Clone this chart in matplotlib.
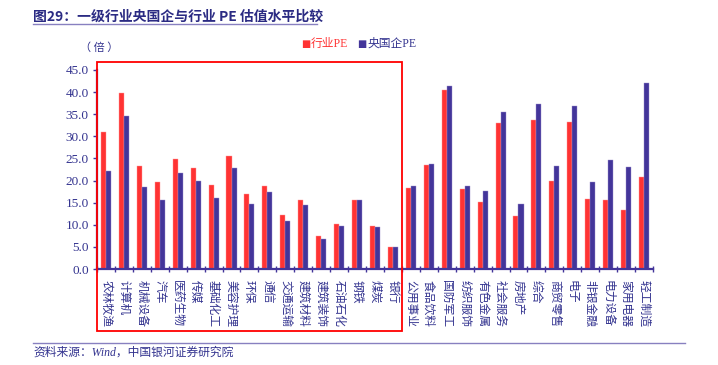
import matplotlib
matplotlib.use("Agg")
import matplotlib.pyplot as plt
import matplotlib.transforms as mtransforms
from matplotlib.patches import Rectangle
import numpy as np

plt.rcParams['font.family'] = ['Liberation Serif', 'Noto Sans CJK SC', 'DejaVu Sans']

# Industries and PE values
industries = ["农林牧渔", "计算机", "机械设备", "汽车", "医药生物", "传媒", "基础化工", "美容护理",
              "环保", "通信", "交通运输", "建筑材料", "建筑装饰", "石油石化", "钢铁", "煤炭", "银行",
              "公用事业", "食品饮料", "国防军工", "纺织服饰", "有色金属", "社会服务", "房地产", "综合",
              "商贸零售", "电子", "非银金融", "电力设备", "家用电器", "轻工制造"]
industryPE = [30.9, 39.9, 23.4, 19.6, 24.9, 22.8, 18.9, 25.5,
              16.9, 18.7, 12.2, 15.5, 7.5, 10.1, 15.7, 9.8, 4.9,
              18.3, 23.5, 40.5, 18.0, 15.1, 33.0, 11.9, 33.8,
              20.0, 33.2, 15.8, 15.7, 13.3, 20.8]
soePE = [22.2, 34.5, 18.6, 15.6, 21.6, 19.8, 16.1, 22.8,
         14.8, 17.3, 10.9, 14.5, 6.8, 9.8, 15.5, 9.6, 4.9,
         18.7, 23.8, 41.3, 18.8, 17.6, 35.6, 14.7, 37.2,
         23.4, 36.8, 19.6, 24.6, 23.0, 42.0]
yTicks = [0, 5, 10, 15, 20, 25, 30, 35, 40, 45]
highlightCount = 17

navy = '#33338F'
red = '#FF3333'
blue = '#43359A'

fig = plt.figure(figsize=(7.18, 3.65), dpi=100)
ax = fig.add_axes([97 / 718, 1 - 269 / 365, 556 / 718, 199 / 365])

x = np.arange(len(industries))
barWidth = 0.28
ax.bar(x - barWidth / 2, industryPE, barWidth, color=red, edgecolor='#FF9999', linewidth=0.3, label='行业PE')
ax.bar(x + barWidth / 2, soePE, barWidth, color=blue, edgecolor='#9A90CC', linewidth=0.3, label='央国企PE')

ax.set_xlim(-0.5, len(industries) - 0.5)
ax.set_ylim(0, 45)

# Axis styling
for side in ['top', 'right']:
    ax.spines[side].set_visible(False)
ax.spines['bottom'].set_color(blue)
ax.spines['bottom'].set_linewidth(1.6)
ax.spines['left'].set_color(blue)
ax.spines['left'].set_linewidth(1.6)

ax.set_yticks(yTicks)
ax.set_yticklabels(["%.1f" % v for v in yTicks], color=navy, fontsize=9.5)
ax.tick_params(axis='y', direction='out', length=3, width=1, color=blue, pad=3)

ax.set_xticks(x)
ax.set_xticklabels(industries, rotation=-90, va='top', ha='center', color=navy,
                   fontsize=8.5, family=['Noto Sans CJK SC'])
ax.tick_params(axis='x', length=0, pad=8)
ax.set_xticks(np.arange(len(industries) + 1) - 0.5, minor=True)
ax.tick_params(axis='x', which='minor', direction='inout', length=5, width=1, color=blue)

# Red highlight box around the first group
boxTransform = mtransforms.blended_transform_factory(ax.transData, fig.transFigure)
box = Rectangle((-0.5, 1 - 331 / 365), highlightCount, (331 - 62) / 365, transform=boxTransform,
                fill=False, edgecolor='#FF0000', linewidth=1.3, clip_on=False)
fig.add_artist(box)

# Title and lines
fig.text(33 / 718, 1 - 17 / 365, "图29：一级行业央国企与行业 PE 估值水平比较", fontsize=10, fontweight='bold',
         color='#2B2B83', va='center', ha='left', family=['Noto Sans CJK SC'])
fig.add_artist(plt.Line2D([33 / 718, 317 / 718], [1 - 23.5 / 365, 1 - 23.5 / 365], color='#8880C0', linewidth=1.0))
fig.add_artist(plt.Line2D([33 / 718, 685 / 718], [1 - 343 / 365, 1 - 343 / 365], color='#8880C0', linewidth=1.0))

# Unit label and legend
fig.text(80 / 718, 1 - 48 / 365, "（ 倍 ）", fontsize=8, color=navy, va='center', ha='left',
         family=['Noto Sans CJK SC'])
fig.text(301 / 718, 1 - 44 / 365, "■", fontsize=7, color=red, va='center', ha='left', family=['DejaVu Sans'])
fig.text(311 / 718, 1 - 44 / 365, "行业PE", fontsize=8.5, color=red, va='center', ha='left')
fig.text(357 / 718, 1 - 44 / 365, "■", fontsize=7, color=blue, va='center', ha='left', family=['DejaVu Sans'])
fig.text(367 / 718, 1 - 44 / 365, "央国企PE", fontsize=8.5, color=navy, va='center', ha='left')

# Source note
fig.text(33 / 718, 1 - 353 / 365, "资料来源：Wind，中国银河证券研究院", fontsize=8.5, color=navy,
         style='italic', va='center', ha='left')

fig.savefig("out.png", dpi=100)
